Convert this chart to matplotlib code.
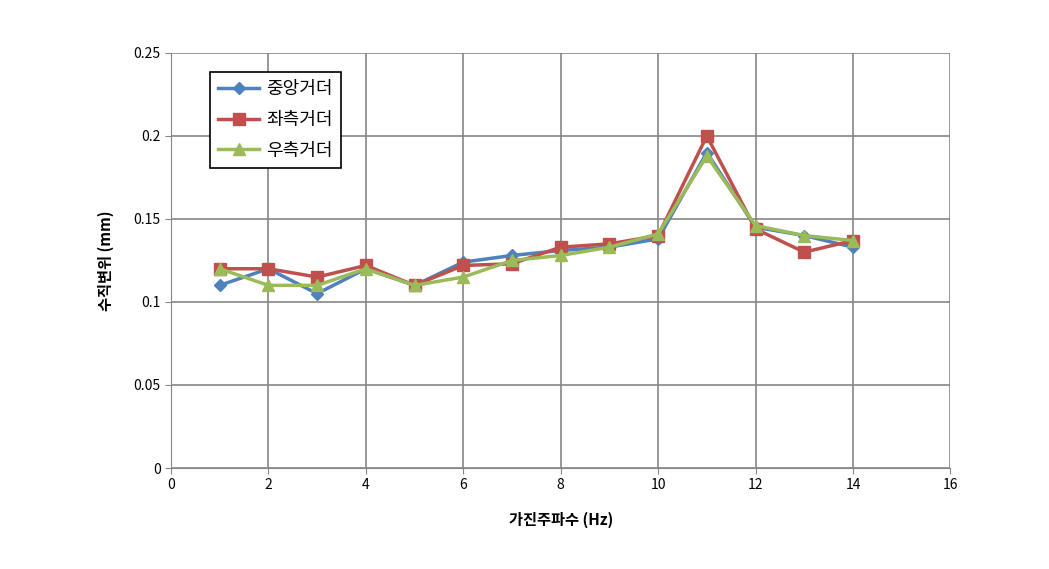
import matplotlib.pyplot as plt
from matplotlib.ticker import MultipleLocator

plt.rcParams['font.family'] = ['Noto Sans CJK KR', 'DejaVu Sans']

freq = [1, 2, 3, 4, 5, 6, 7, 8, 9, 10, 11, 12, 13, 14]
center = [0.110, 0.120, 0.105, 0.120, 0.110, 0.124, 0.128, 0.131, 0.133, 0.138, 0.190, 0.145, 0.140, 0.133]
left = [0.120, 0.120, 0.115, 0.122, 0.110, 0.122, 0.123, 0.133, 0.135, 0.140, 0.200, 0.144, 0.130, 0.137]
right = [0.120, 0.110, 0.110, 0.120, 0.110, 0.115, 0.125, 0.128, 0.133, 0.141, 0.188, 0.146, 0.140, 0.137]
names = ['중앙거더', '좌측거더', '우측거더']

fig = plt.figure(figsize=(10.49, 5.69), dpi=100)
ax = fig.add_axes([0.163, 0.1775, 0.743, 0.7295])

ax.plot(freq, center, color='#4F81BD', marker='D', markersize=6, linewidth=2.5, label=names[0])
ax.plot(freq, left, color='#C0504D', marker='s', markersize=8.5, linewidth=2.5, label=names[1])
ax.plot(freq, right, color='#9BBB59', marker='^', markersize=8.5, linewidth=2.5, label=names[2])

ax.set_xlim(0, 16)
ax.set_ylim(0, 0.25)
ax.xaxis.set_major_locator(MultipleLocator(2))
ax.set_yticks([0, 0.05, 0.1, 0.15, 0.2, 0.25])
ax.set_yticklabels(['0', '0.05', '0.1', '0.15', '0.2', '0.25'])
ax.grid(True, color='#868686', linewidth=1.2)
ax.set_axisbelow(True)
for s in ['top', 'right']:
    ax.spines[s].set_visible(False)
ax.spines['left'].set_color('#868686')
ax.spines['bottom'].set_color('#868686')
ax.tick_params(labelsize=10, color='#868686', length=4)

ax.set_xlabel('가진주파수 (Hz)', fontsize=11, fontweight='bold', labelpad=14)
ax.set_ylabel('수직변위 (mm)', fontsize=11, fontweight='bold', labelpad=14)

leg = ax.legend(loc='upper left', bbox_to_anchor=(0.038, 0.975), fontsize=13,
                fancybox=False, framealpha=1, edgecolor='black', handlelength=2.3,
                handletextpad=0.4, borderpad=0.45, labelspacing=0.7)
leg.get_frame().set_linewidth(1.2)

fig.savefig('out.png', dpi=100)
